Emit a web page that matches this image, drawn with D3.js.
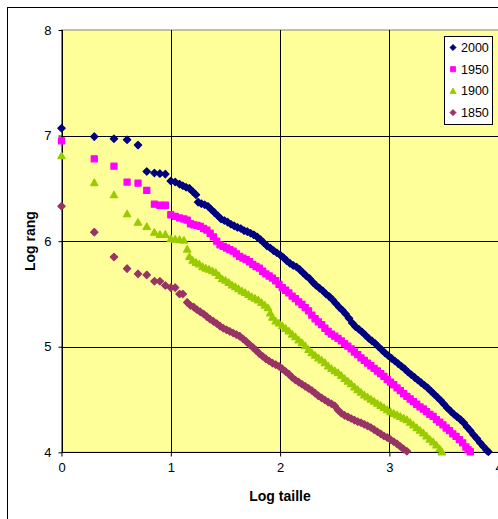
<!DOCTYPE html>
<html><head><meta charset="utf-8">
<script src="https://cdn.jsdelivr.net/npm/d3@7"></script>
<style>
body{margin:0;background:#fff;overflow:hidden}
svg{display:block}
text{font-family:Arial,"Liberation Sans",sans-serif;fill:#000}
</style>
</head><body>
<svg id="chart" width="498" height="519"></svg>
<script>
const xTicks = [0, 1, 2, 3, 4];
const yTicks = [4, 5, 6, 7, 8];
const seriesNames = ["2000", "1950", "1900", "1850"];

const s2000 = [[0,7.07],[0.30,6.99],[0.48,6.97],[0.60,6.96],[0.70,6.91],[0.78,6.66],[0.85,6.645],[0.90,6.64],[0.95,6.635],
[1.00,6.57],[1.04,6.56],[1.08,6.54],[1.11,6.525],[1.14,6.51],[1.17,6.50],[1.20,6.47],[1.23,6.44],[1.25,6.37],
[1.28,6.355],[1.31,6.345],[1.34,6.33],[1.37,6.30],[1.40,6.27],[1.43,6.24],[1.46,6.21],[1.49,6.195],[1.52,6.18],[1.55,6.16],
[1.58,6.145],[1.61,6.13],[1.64,6.12],[1.67,6.10],[1.70,6.09],[1.73,6.075],[1.76,6.06],[1.79,6.04],[1.82,6.015],[1.85,5.985],
[1.88,5.955],[1.91,5.935],[1.94,5.91],[1.97,5.89],[2.00,5.87],[2.03,5.845],[2.06,5.815],[2.09,5.79],[2.12,5.77],[2.15,5.755],
[2.18,5.73],[2.21,5.70],[2.24,5.67],[2.27,5.645],[2.30,5.61],[2.33,5.58],[2.36,5.555],[2.39,5.53],[2.42,5.50],[2.45,5.475],
[2.48,5.445],[2.51,5.41],[2.54,5.375],[2.57,5.345],[2.60,5.31],[2.63,5.27],[2.66,5.225],[2.69,5.19],[2.72,5.165],[2.75,5.14],
[2.78,5.11],[2.81,5.08],[2.84,5.055],[2.87,5.03],[2.90,5.00],[2.93,4.97],[2.96,4.94],[2.99,4.915],[3.02,4.89],[3.05,4.865],
[3.08,4.84],[3.11,4.815],[3.14,4.79],[3.17,4.76],[3.20,4.735],[3.23,4.71],[3.26,4.685],[3.29,4.66],[3.32,4.635],[3.35,4.61],
[3.38,4.58],[3.41,4.55],[3.44,4.52],[3.47,4.49],[3.50,4.455],[3.53,4.42],[3.56,4.39],[3.59,4.36],[3.62,4.335],[3.65,4.31],
[3.68,4.28],[3.71,4.24],[3.74,4.205],[3.77,4.165],[3.80,4.13],[3.83,4.09],[3.86,4.055],[3.89,4.02],[3.905,4.005]];

const s1950 = [[0,6.95],[0.30,6.78],[0.48,6.71],[0.60,6.56],[0.70,6.55],[0.78,6.48],[0.85,6.35],[0.90,6.34],[0.95,6.34],
[1.00,6.25],[1.04,6.235],[1.08,6.22],[1.12,6.21],[1.15,6.20],[1.18,6.165],[1.21,6.155],[1.24,6.15],[1.27,6.14],[1.30,6.12],
[1.33,6.105],[1.36,6.075],[1.39,6.04],[1.42,6.00],[1.45,5.965],[1.48,5.95],[1.51,5.935],[1.54,5.92],[1.57,5.905],[1.60,5.88],
[1.63,5.855],[1.66,5.84],[1.69,5.825],[1.72,5.805],[1.75,5.78],[1.78,5.76],[1.81,5.745],[1.84,5.715],[1.87,5.69],[1.90,5.67],
[1.93,5.65],[1.96,5.625],[1.99,5.59],[2.02,5.56],[2.05,5.535],[2.08,5.51],[2.11,5.48],[2.14,5.455],[2.17,5.425],[2.20,5.40],
[2.23,5.37],[2.26,5.34],[2.29,5.30],[2.32,5.265],[2.35,5.235],[2.38,5.21],[2.41,5.175],[2.44,5.145],[2.47,5.12],[2.50,5.10],
[2.53,5.08],[2.56,5.055],[2.59,5.03],[2.62,5.005],[2.65,4.98],[2.68,4.95],[2.71,4.925],[2.74,4.895],[2.77,4.87],[2.80,4.845],
[2.83,4.82],[2.86,4.795],[2.89,4.77],[2.92,4.745],[2.95,4.72],[2.98,4.69],[3.01,4.665],[3.04,4.64],[3.07,4.61],[3.10,4.585],
[3.13,4.555],[3.16,4.53],[3.19,4.505],[3.22,4.48],[3.25,4.455],[3.28,4.43],[3.31,4.41],[3.34,4.385],[3.37,4.36],[3.40,4.34],
[3.43,4.31],[3.46,4.285],[3.49,4.26],[3.52,4.23],[3.55,4.205],[3.58,4.175],[3.61,4.15],[3.64,4.12],[3.67,4.09],[3.70,4.05],
[3.72,4.025],[3.74,4.005]];

const s1900 = [[0,6.81],[0.30,6.555],[0.48,6.44],[0.60,6.26],[0.70,6.18],[0.78,6.14],[0.85,6.085],[0.90,6.065],[0.95,6.065],
[1.00,6.025],[1.04,6.02],[1.08,6.015],[1.12,6.01],[1.15,5.925],[1.17,5.855],[1.20,5.82],[1.23,5.80],[1.26,5.785],[1.29,5.76],
[1.32,5.745],[1.35,5.735],[1.38,5.72],[1.41,5.705],[1.44,5.675],[1.47,5.645],[1.50,5.63],[1.53,5.61],[1.56,5.585],[1.59,5.57],
[1.62,5.55],[1.65,5.53],[1.68,5.515],[1.71,5.495],[1.74,5.475],[1.77,5.46],[1.80,5.445],[1.83,5.42],[1.86,5.395],[1.89,5.37],
[1.91,5.32],[1.93,5.28],[1.96,5.245],[1.99,5.225],[2.02,5.20],[2.05,5.175],[2.08,5.15],[2.11,5.12],[2.14,5.095],[2.17,5.065],
[2.20,5.04],[2.23,5.01],[2.26,4.975],[2.29,4.945],[2.32,4.92],[2.35,4.895],[2.38,4.875],[2.41,4.85],[2.44,4.82],[2.47,4.795],
[2.50,4.775],[2.53,4.755],[2.56,4.73],[2.59,4.70],[2.62,4.675],[2.65,4.65],[2.68,4.62],[2.71,4.595],[2.74,4.57],[2.77,4.545],
[2.80,4.525],[2.83,4.505],[2.86,4.485],[2.89,4.465],[2.92,4.445],[2.95,4.425],[2.98,4.405],[3.01,4.385],[3.04,4.37],[3.07,4.355],
[3.10,4.34],[3.13,4.325],[3.16,4.31],[3.19,4.285],[3.22,4.26],[3.25,4.235],[3.28,4.21],[3.31,4.185],[3.34,4.155],[3.37,4.125],
[3.40,4.10],[3.43,4.07],[3.46,4.035],[3.48,4.005]];

const s1850 = [[0,6.33],[0.30,6.085],[0.48,5.85],[0.60,5.74],[0.70,5.69],[0.78,5.68],[0.85,5.62],[0.90,5.62],[0.95,5.58],
[1.00,5.56],[1.04,5.56],[1.08,5.50],[1.11,5.50],[1.15,5.42],[1.18,5.39],[1.21,5.375],[1.24,5.35],[1.27,5.33],[1.30,5.31],
[1.33,5.285],[1.36,5.26],[1.39,5.24],[1.42,5.22],[1.45,5.195],[1.48,5.175],[1.51,5.16],[1.54,5.145],[1.57,5.13],[1.60,5.115],
[1.63,5.10],[1.66,5.075],[1.69,5.05],[1.72,5.02],[1.75,4.995],[1.78,4.965],[1.81,4.935],[1.84,4.91],[1.87,4.885],[1.90,4.865],
[1.93,4.845],[1.96,4.83],[1.99,4.815],[2.02,4.79],[2.05,4.765],[2.08,4.74],[2.11,4.71],[2.14,4.685],[2.17,4.665],[2.20,4.645],
[2.23,4.625],[2.26,4.605],[2.29,4.585],[2.32,4.56],[2.35,4.535],[2.38,4.515],[2.41,4.495],[2.44,4.475],[2.47,4.46],[2.50,4.44],
[2.53,4.40],[2.56,4.37],[2.59,4.35],[2.62,4.335],[2.65,4.32],[2.68,4.305],[2.71,4.29],[2.74,4.28],[2.77,4.265],[2.80,4.25],
[2.83,4.235],[2.86,4.215],[2.89,4.195],[2.92,4.175],[2.95,4.155],[2.98,4.14],[3.01,4.12],[3.04,4.10],[3.07,4.08],[3.10,4.055],
[3.13,4.03],[3.16,4.01]];

const seriesData = [s2000, s1950, s1900, s1850];
const seriesColors = ["#000080", "#FF00FF", "#99CC00", "#993366"];
const seriesShapes = ["diamond", "square", "triangle", "diamond"];

const svg = d3.select("#chart");
const plot = {left: 61.5, top: 30, right: 498.7, bottom: 452.3};

const x = d3.scaleLinear().domain([0, 4]).range([plot.left, plot.right]);
const y = d3.scaleLinear().domain([4, 8]).range([plot.bottom, plot.top]);

// outer chart border (extends beyond the window)
svg.append("rect").attr("x", 7.5).attr("y", 7.5).attr("width", 600).attr("height", 600)
  .attr("fill", "#fff").attr("stroke", "#000").attr("stroke-width", 1);

// plot area
svg.append("rect").attr("x", plot.left).attr("y", plot.top)
  .attr("width", plot.right - plot.left).attr("height", plot.bottom - plot.top)
  .attr("fill", "#FFFF99").attr("stroke", "#808080").attr("stroke-width", 1);

// gridlines
const grid = svg.append("g");
grid.selectAll("line.vx").data(xTicks.slice(1)).join("line")
  .attr("x1", d => Math.round(x(d)) + 0.5).attr("x2", d => Math.round(x(d)) + 0.5)
  .attr("y1", plot.top).attr("y2", plot.bottom).attr("stroke", "#000");
grid.selectAll("line.hy").data(yTicks.slice(1, -1)).join("line")
  .attr("y1", d => Math.round(y(d)) + 0.5).attr("y2", d => Math.round(y(d)) + 0.5)
  .attr("x1", plot.left).attr("x2", plot.right).attr("stroke", "#000");

// axes
const xAxis = d3.axisBottom(x).tickValues(xTicks).tickSize(4).tickPadding(6).tickFormat(d3.format("d"));
const yAxis = d3.axisLeft(y).tickValues(yTicks).tickSize(4).tickPadding(7).tickFormat(d3.format("d"));
const gx = svg.append("g").attr("transform", `translate(0,${Math.round(plot.bottom) + 0.5})`).call(xAxis);
const gy = svg.append("g").attr("transform", `translate(${Math.round(plot.left) + 0.5},0)`).call(yAxis);
[gx, gy].forEach(g => {
  g.select(".domain").attr("stroke", "#000");
  g.selectAll(".tick line").attr("stroke", "#000");
  g.selectAll(".tick text").attr("font-size", 13).attr("font-family", "Arial, 'Liberation Sans', sans-serif").attr("fill", "#000");
});
gx.select(".domain").attr("d", `M${plot.left},0H${plot.right}`);
gy.select(".domain").attr("d", `M0,${plot.bottom}V${plot.top}`);

// axis titles
svg.append("text").attr("x", 280).attr("y", 501).attr("text-anchor", "middle")
  .attr("font-size", 14).attr("font-weight", "bold").text("Log taille");
svg.append("text").attr("transform", `translate(35,${(plot.top + plot.bottom) / 2}) rotate(-90)`)
  .attr("text-anchor", "middle").attr("font-size", 14).attr("font-weight", "bold").text("Log rang");

// marker shapes
function shapePath(shape) {
  if (shape === "diamond") return "M0,-3.6L3.6,0L0,3.6L-3.6,0Z";
  if (shape === "square") return "M-3,-3H3V3H-3Z";
  return "M0,-3.4L3.6,3H-3.6Z";
}

// series
const clipId = "plotclip";
svg.append("clipPath").attr("id", clipId).append("rect")
  .attr("x", plot.left - 6).attr("y", plot.top).attr("width", plot.right - plot.left + 12).attr("height", plot.bottom - plot.top + 6);
const marks = svg.append("g").attr("clip-path", `url(#${clipId})`);
seriesData.forEach((data, i) => {
  marks.append("g").selectAll("path").data(data).join("path")
    .attr("transform", d => `translate(${x(d[0])},${y(d[1])})`)
    .attr("d", shapePath(seriesShapes[i]))
    .attr("fill", seriesColors[i])
    .attr("stroke", seriesColors[i]).attr("stroke-width", 1.3).attr("stroke-linejoin", "round");
});

// legend
const lg = svg.append("g");
lg.append("rect").attr("x", 444.5).attr("y", 36.5).attr("width", 48).attr("height", 88)
  .attr("fill", "#fff").attr("stroke", "#000");
seriesNames.forEach((name, i) => {
  const cy = 47.5 + i * 21.7;
  lg.append("path").attr("transform", `translate(453,${cy}) scale(0.85)`)
    .attr("d", shapePath(seriesShapes[i])).attr("fill", seriesColors[i])
    .attr("stroke", seriesColors[i]).attr("stroke-width", 1).attr("stroke-linejoin", "round");
  lg.append("text").attr("x", 461).attr("y", cy + 4.5).attr("font-size", 12.5).text(name);
});
</script>
</body></html>
